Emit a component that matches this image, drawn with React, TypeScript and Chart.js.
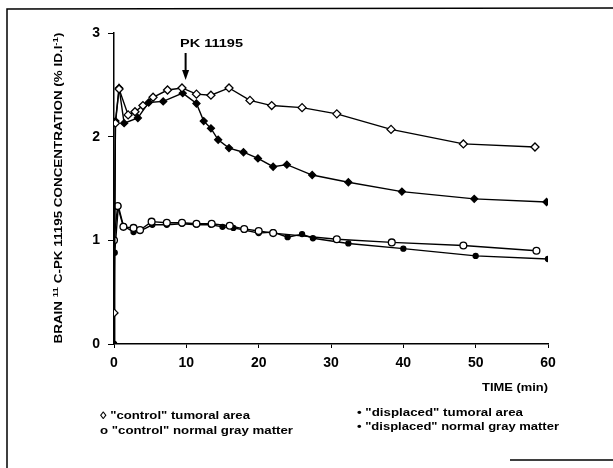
import React, { useEffect, useRef } from 'react';
import { Chart, registerables } from 'chart.js';
Chart.register(...registerables);

// ---- data (time in min, concentration in % ID/l) ----
const ctrlTumorT = [0, 0.2, 0.7, 1.95, 2.9, 4.0, 5.4, 7.4, 9.4, 11.4, 13.4, 15.9, 18.8, 21.8, 26.0, 30.8, 38.3, 48.3, 58.2];
const ctrlTumorV = [0.3, 2.13, 2.46, 2.21, 2.24, 2.30, 2.38, 2.45, 2.47, 2.41, 2.40, 2.47, 2.35, 2.30, 2.28, 2.22, 2.07, 1.93, 1.90];

const dispTumorT = [0, 0.2, 0.7, 1.4, 3.3, 4.8, 6.8, 9.5, 11.4, 12.4, 13.4, 14.4, 15.9, 17.9, 19.9, 22.0, 23.9, 27.4, 32.4, 39.8, 49.8, 59.8];
const dispTumorV = [0, 2.15, 2.47, 2.13, 2.18, 2.33, 2.34, 2.42, 2.32, 2.15, 2.08, 1.97, 1.89, 1.85, 1.79, 1.71, 1.73, 1.63, 1.56, 1.47, 1.40, 1.37];

const ctrlGrayT = [0, 0.5, 1.3, 2.7, 3.6, 5.2, 7.3, 9.4, 11.4, 13.5, 16.0, 18.0, 20.0, 22.0, 30.8, 38.4, 48.3, 58.4];
const ctrlGrayV = [1.0, 1.33, 1.13, 1.12, 1.10, 1.18, 1.17, 1.17, 1.16, 1.16, 1.14, 1.11, 1.09, 1.07, 1.01, 0.98, 0.95, 0.90];

const dispGrayT = [0, 0.1, 0.6, 1.3, 2.7, 3.6, 5.3, 7.3, 9.4, 11.4, 13.4, 15.0, 16.5, 18.0, 20.0, 22.0, 24.0, 26.0, 27.5, 32.4, 40.0, 50.0, 60.0];
const dispGrayV = [0, 0.88, 1.33, 1.14, 1.08, 1.09, 1.15, 1.15, 1.16, 1.15, 1.15, 1.13, 1.12, 1.10, 1.07, 1.08, 1.03, 1.06, 1.02, 0.97, 0.92, 0.85, 0.82];

const xTicks = [0, 10, 20, 30, 40, 50, 60];
const yTicks = [0, 1, 2, 3];

const legendLeft = ['\u25CA "control" tumoral area', 'o "control" normal gray matter'];
const legendRight = ['\u2022 "displaced" tumoral area', '\u2022 "displaced" normal gray matter'];
const xTitle = 'TIME (min)';
const annotation = 'PK 11195';
const yTitleParts: [string, boolean][] = [
  ['BRAIN ', false],
  ['11', true],
  [' C-PK 11195 CONCENTRATION (% ID.l', false],
  ['-1', true],
  [')', false],
];

const FONT = '"Liberation Sans", Arial, sans-serif';

const toPts = (t: number[], v: number[]) => t.map((x, i) => ({ x, y: v[i] }));

function fitText(ctx: CanvasRenderingContext2D, text: string, x: number, y: number, size: number, width: number) {
  ctx.font = `bold ${size}px ${FONT}`;
  const w = ctx.measureText(text).width;
  ctx.save();
  ctx.translate(x, y);
  ctx.scale(width / w, 1);
  ctx.textAlign = 'left';
  ctx.textBaseline = 'alphabetic';
  ctx.fillText(text, 0, 0);
  ctx.restore();
}

const deco = {
  id: 'deco',
  afterDraw(chart: any) {
    const ctx: CanvasRenderingContext2D = chart.ctx;
    ctx.save();
    ctx.fillStyle = '#000';
    ctx.strokeStyle = '#000';

    // frame
    ctx.lineWidth = 1.5;
    ctx.beginPath();
    ctx.moveTo(7, 468);
    ctx.lineTo(7, 9);
    ctx.lineTo(613, 8);
    ctx.moveTo(510, 460);
    ctx.lineTo(613, 460);
    ctx.stroke();

    // y-axis title (rotated)
    ctx.save();
    ctx.translate(62, 188);
    ctx.rotate(-Math.PI / 2);
    const mainSize = 11;
    const supSize = 8;
    let total = 0;
    const widths = yTitleParts.map(([t, sup]) => {
      ctx.font = `bold ${sup ? supSize : mainSize}px ${FONT}`;
      const w = ctx.measureText(t).width;
      total += w;
      return w;
    });
    const target = 311;
    const sx = target / total;
    ctx.scale(sx, 1);
    let cx = -total / 2;
    yTitleParts.forEach(([t, sup], i) => {
      ctx.font = `bold ${sup ? supSize : mainSize}px ${FONT}`;
      ctx.textBaseline = 'alphabetic';
      ctx.fillText(t, cx, sup ? -4 : 0);
      cx += widths[i];
    });
    ctx.restore();

    // annotation + arrow
    fitText(ctx, annotation, 180, 47, 11, 63);
    const ax = chart.scales.x.getPixelForValue(9.9);
    ctx.lineWidth = 2;
    ctx.beginPath();
    ctx.moveTo(ax, 53);
    ctx.lineTo(ax, 72);
    ctx.stroke();
    ctx.beginPath();
    ctx.moveTo(ax - 3.5, 70);
    ctx.lineTo(ax + 3.5, 70);
    ctx.lineTo(ax, 80);
    ctx.closePath();
    ctx.fill();

    // x title
    fitText(ctx, xTitle, 482, 391, 11, 66);

    // legend
    fitText(ctx, legendLeft[0], 100, 419, 10.5, 150);
    fitText(ctx, legendLeft[1], 100, 434, 10.5, 193);
    fitText(ctx, legendRight[0], 357, 416, 10.5, 166);
    fitText(ctx, legendRight[1], 357, 430, 10.5, 202);

    ctx.restore();
  },
};

export default function App() {
  const ref = useRef<HTMLCanvasElement | null>(null);
  useEffect(() => {
    const canvas = ref.current!;
    const common = {
      showLine: true,
      borderColor: '#000',
      borderWidth: 1.4,
      pointBorderColor: '#000',
      pointBorderWidth: 1.3,
      tension: 0,
    };
    const chart = new Chart(canvas, {
      type: 'scatter',
      data: {
        datasets: [
          { ...common, label: '"control" tumoral area', data: toPts(ctrlTumorT, ctrlTumorV), pointStyle: 'rectRot', pointRadius: 4, pointBackgroundColor: '#fff' },
          { ...common, label: '"displaced" tumoral area', data: toPts(dispTumorT, dispTumorV), pointStyle: 'rectRot', pointRadius: 3.5, pointBackgroundColor: '#000' },
          { ...common, label: '"control" normal gray matter', data: toPts(ctrlGrayT, ctrlGrayV), pointStyle: 'circle', pointRadius: 3.4, pointBackgroundColor: '#fff' },
          { ...common, label: '"displaced" normal gray matter', data: toPts(dispGrayT, dispGrayV), pointStyle: 'circle', pointRadius: 2.5, pointBackgroundColor: '#000' },
        ],
      } as any,
      options: {
        animation: false,
        responsive: false,
        maintainAspectRatio: false,
        layout: { padding: { left: 0, right: 65, top: 33, bottom: 0 } },
        plugins: { legend: { display: false }, tooltip: { enabled: false } },
        scales: {
          x: {
            type: 'linear',
            min: 0,
            max: 60,
            afterFit: (s: any) => { s.height = 124; },
            afterBuildTicks: (s: any) => { s.ticks = xTicks.map((v) => ({ value: v })); },
            border: { display: true, color: '#000', width: 1.5 },
            grid: { drawOnChartArea: false, drawTicks: true, tickLength: 4, color: '#000', lineWidth: 1 },
            ticks: { color: '#000', padding: 7, font: { family: FONT, size: 14, weight: 'bold' } },
          },
          y: {
            type: 'linear',
            min: 0,
            max: 3,
            afterFit: (s: any) => { s.width = 114; },
            afterBuildTicks: (s: any) => { s.ticks = yTicks.map((v) => ({ value: v })); },
            border: { display: true, color: '#000', width: 1.5 },
            grid: { drawOnChartArea: false, drawTicks: true, tickLength: 6, color: '#000', lineWidth: 1 },
            ticks: { color: '#000', padding: 8, font: { family: FONT, size: 14, weight: 'bold' } },
          },
        },
      } as any,
      plugins: [deco],
    });
    return () => chart.destroy();
  }, []);

  return (
    <div style={{ position: 'fixed', left: 0, top: 0, width: 613, height: 468, background: '#fff' }}>
      <canvas ref={ref} width={613} height={468} style={{ display: 'block', width: 613, height: 468 }} />
    </div>
  );
}
